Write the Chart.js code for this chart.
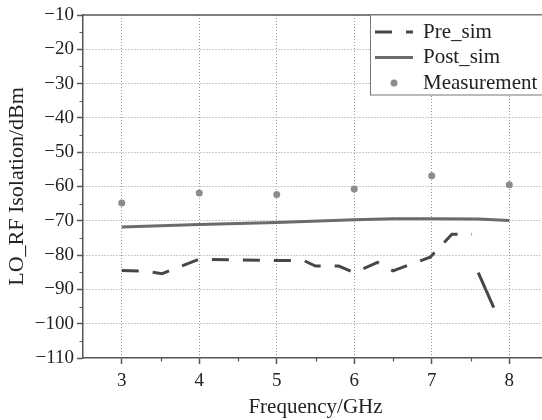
<!DOCTYPE html>
<html>
<head>
<meta charset="utf-8">
<title>LO_RF Isolation</title>
<script src="https://cdn.jsdelivr.net/npm/chart.js@4.4.1/dist/chart.umd.min.js"></script>
<style>
  html, body { margin: 0; padding: 0; background: #fff; overflow: hidden; }
  #wrap { width: 560px; height: 420px; }
</style>
</head>
<body>
<div id="wrap"><canvas id="chart" width="560" height="420"></canvas></div>
<script>
// Pre-layout simulation (dashed)
const preFreq = [3.0, 3.3, 3.52, 4.0, 5.0, 5.35, 5.5, 5.8, 6.0, 6.3, 6.5, 6.98, 7.26, 7.52, 7.6, 7.8];
const preIso  = [-84.5, -84.7, -85.4, -81.2, -81.6, -81.6, -83.2, -83.2, -85.1, -82.1, -84.6, -80.6, -73.9, -73.9, -85.1, -95.3];
// the steep drop after 7.5 GHz falls in a dash gap, the tail is one long dash
const preGapAfter = 13;
const preTailFrom = 14;

// Post-layout simulation (solid)
const postFreq = [3, 4, 5, 6, 6.5, 7, 7.6, 8];
const postIso  = [-71.8, -71.1, -70.5, -69.7, -69.4, -69.4, -69.5, -69.9];

// Measured points
const measFreq = [3, 4, 5, 6, 7, 8];
const measIso  = [-64.8, -61.9, -62.3, -60.7, -56.9, -59.5];

const xTicks = [3, 4, 5, 6, 7, 8];
const yMinorTicks = [-105, -95, -85, -75, -65, -55, -45, -35, -25, -15];
const xMinorTicks = [3.5, 4.5, 5.5, 6.5, 7.5];

const serif = "'Liberation Serif', 'Times New Roman', serif";
const axisColor = '#555';
const textColor = '#222';

function toPoints(xs, ys) {
  return xs.map((x, i) => ({ x: x, y: ys[i] }));
}

// frame, minor ticks and the boxed legend
const framePlugin = {
  id: 'frame',
  afterDraw(chart) {
    const c = chart.ctx;
    const area = chart.chartArea;
    const xs = chart.scales.x;
    const ys = chart.scales.y;

    c.save();
    c.strokeStyle = axisColor;
    c.lineWidth = 1.5;
    c.beginPath();
    c.moveTo(area.left, area.top);
    c.lineTo(area.right, area.top);
    c.lineTo(area.right, area.bottom);
    c.stroke();

    // minor ticks
    c.lineWidth = 1.2;
    c.beginPath();
    yMinorTicks.forEach(v => {
      const py = Math.round(ys.getPixelForValue(v)) + 0.5;
      c.moveTo(area.left - 3.5, py);
      c.lineTo(area.left, py);
    });
    xMinorTicks.forEach(v => {
      const px = Math.round(xs.getPixelForValue(v)) + 0.5;
      c.moveTo(px, area.bottom);
      c.lineTo(px, area.bottom + 3.5);
    });
    c.stroke();

    // legend box
    const bx = 370.5, by = area.top, bh = 80;
    c.fillStyle = '#fff';
    c.fillRect(bx, by, area.right - bx, bh);
    c.strokeStyle = '#777';
    c.lineWidth = 1;
    c.strokeRect(bx, by, area.right - bx, bh);

    c.font = '21px ' + serif;
    c.textBaseline = 'middle';
    c.textAlign = 'left';
    chart.data.datasets.forEach((ds, i) => {
      const ry = by + 17 + i * 25.5;
      if (ds.showLine === false) {
        c.fillStyle = ds.pointBackgroundColor;
        c.beginPath();
        c.arc(394, ry, ds.pointRadius, 0, Math.PI * 2);
        c.fill();
      } else {
        c.strokeStyle = ds.borderColor;
        c.lineWidth = ds.borderWidth;
        c.setLineDash(ds.borderDash || []);
        c.beginPath();
        c.moveTo(375, ry);
        c.lineTo(413, ry);
        c.stroke();
        c.setLineDash([]);
      }
      c.fillStyle = textColor;
      c.fillText(ds.label, 423, ry);
    });
    c.restore();
  }
};

const ctx = document.getElementById('chart');
new Chart(ctx, {
  type: 'line',
  data: {
    datasets: [
      {
        label: 'Pre_sim',
        data: toPoints(preFreq, preIso),
        borderColor: '#474747',
        borderWidth: 3,
        borderDash: [17, 14],
        pointRadius: 0,
        fill: false,
        tension: 0,
        segment: {
          borderColor: s => s.p0DataIndex === preGapAfter ? 'rgba(0,0,0,0)' : undefined,
          borderDash: s => s.p0DataIndex >= preTailFrom ? [] : undefined
        }
      },
      {
        label: 'Post_sim',
        data: toPoints(postFreq, postIso),
        borderColor: '#6b6b6b',
        borderWidth: 3,
        pointRadius: 0,
        fill: false,
        tension: 0
      },
      {
        label: 'Measurement',
        data: toPoints(measFreq, measIso),
        showLine: false,
        pointRadius: 3.5,
        pointBackgroundColor: '#8c8c8c',
        pointBorderWidth: 0,
        borderColor: '#8c8c8c'
      }
    ]
  },
  options: {
    responsive: false,
    animation: false,
    layout: { padding: { top: 15, right: 12, left: 0, bottom: 0 } },
    plugins: {
      legend: { display: false },
      tooltip: { enabled: false }
    },
    scales: {
      x: {
        type: 'linear',
        min: 2.5,
        max: 8.5,
        afterBuildTicks: s => { s.ticks = xTicks.map(v => ({ value: v })); },
        afterFit: s => { s.height = 62; },
        ticks: {
          color: textColor,
          font: { family: serif, size: 19 },
          padding: 6
        },
        grid: {
          color: '#999',
          lineWidth: 1,
          drawTicks: true,
          tickLength: 6,
          tickColor: axisColor,
          tickWidth: 1.5
        },
        border: { color: axisColor, width: 1.5, dash: [1, 2] },
        title: {
          display: true,
          text: 'Frequency/GHz',
          color: textColor,
          font: { family: serif, size: 21 },
          padding: { top: 0, bottom: 0 }
        }
      },
      y: {
        min: -110,
        max: -10,
        afterFit: s => { s.width = 83; },
        ticks: {
          stepSize: 10,
          color: textColor,
          font: { family: serif, size: 19 },
          padding: 3,
          callback: v => (v < 0 ? '\u2212' : '') + Math.abs(v)
        },
        grid: {
          color: c => (c.tick && (c.tick.value === -10 || c.tick.value === -110)) ? 'rgba(0,0,0,0)' : '#999',
          lineWidth: 1,
          drawTicks: true,
          tickLength: 6,
          tickColor: axisColor,
          tickWidth: 1.5
        },
        border: { color: axisColor, width: 1.5, dash: [1, 2] },
        title: {
          display: true,
          text: 'LO_RF Isolation/dBm',
          color: textColor,
          font: { family: serif, size: 22 },
          padding: { top: 4, bottom: 4 }
        }
      }
    }
  },
  plugins: [framePlugin]
});
</script>
</body>
</html>
